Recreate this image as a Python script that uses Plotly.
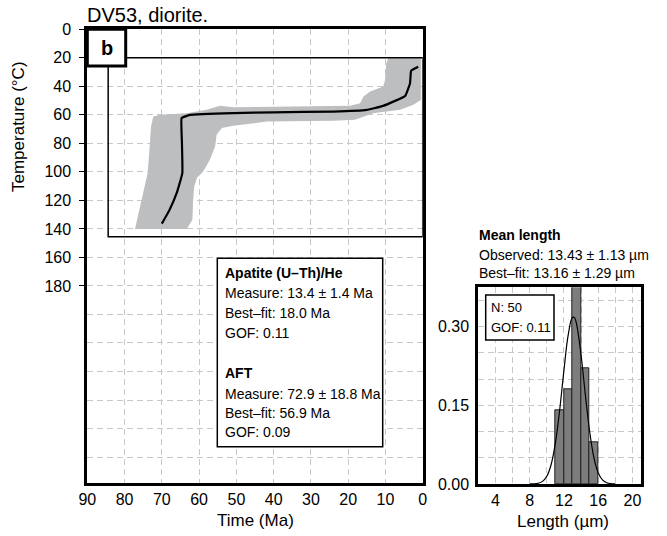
import plotly.graph_objects as go

# ---------------- data ----------------
# envelope of acceptable t-T paths (time Ma, temperature C), polygon
env_time = [77.2, 75.4, 73.8, 73.2, 72.9, 72.3, 70.5, 63.3, 58.0, 54.4, 50.8, 19.5, 16.8, 15.9,
            14.1, 10.6, 10.1, 9.8, 9.2, 0.5, 0.5, 2.5, 6.1, 13.3, 18.2, 24.0, 41.9, 50.8, 53.9,
            55.3, 55.7, 57.1, 58.9, 60.6, 61.3, 61.6, 61.8, 63.3, 77.2]
env_temp = [140, 119.5, 100.8, 79.8, 68.2, 61.2, 60.0, 58.8, 56.5, 53.7, 54.6, 53.7, 51.8, 47.2,
            43.7, 40.2, 35.5, 23.8, 20.3, 20.3, 49.5, 53.0, 56.5, 58.8, 63.5, 64.2, 64.7, 67.7, 69.3,
            74.0, 82.2, 91.5, 99.7, 104.3, 110.2, 119.5, 133.5, 140, 140]

# best-fit path
path_time = [70.0, 68.0, 66.0, 64.5, 64.6, 64.7, 63.3, 62.4, 50.8, 40.0, 24.0, 15.0, 10.6, 4.7, 3.4, 3.1, 1.2]
path_temp = [136.3, 127.0, 114.8, 100.8, 80.0, 62.3, 60.7, 60.0, 58.8, 58.2, 57.7, 56.5, 53.7, 46.7, 37.8, 29.0, 26.2]

# constraint box (time, temperature)
box_time = [84.4, 0]
box_temp = [20, 145.5]

main_xticks = [90, 80, 70, 60, 50, 40, 30, 20, 10, 0]
main_yticks = [0, 20, 40, 60, 80, 100, 120, 140, 160, 180]
main_ygrid_extra = [200, 220, 240, 260, 280, 300]

# track length histogram
bin_centers = [11.5, 12.5, 13.5, 14.5, 15.5]
bin_freq = [0.14, 0.18, 0.38, 0.22, 0.08]

# modelled length distribution
pdf_len = [8.0, 8.5, 9.0, 9.5, 10.0, 10.5, 11.0, 11.5, 12.0, 12.5, 13.0, 13.25, 13.5, 14.0, 14.5,
           15.0, 15.5, 16.0, 16.5, 17.0, 17.5, 18.0]
pdf_val = [0.0001, 0.0004, 0.0015, 0.005, 0.0147, 0.0367, 0.0778, 0.1406, 0.2166, 0.2843, 0.318,
           0.3167, 0.303, 0.246, 0.170, 0.1005, 0.0505, 0.0216, 0.0079, 0.0025, 0.0006, 0.0001]

hist_xticks = [4, 8, 12, 16, 20]
hist_xgrid_extra = [6, 10, 14, 18]
hist_yticks = [0.0, 0.15, 0.30]
hist_yticklabels = ["0.00", "0.15", "0.30"]
hist_ygrid_extra = [0.05, 0.10, 0.20, 0.25, 0.35]

title_text = "DV53, diorite."
panel_label = "b"
ahe_lines = ["<b>Apatite (U–Th)/He</b>", "Measure: 13.4 ± 1.4 Ma", "Best–fit: 18.0 Ma", "GOF: 0.11"]
aft_lines = ["<b>AFT</b>", "Measure: 72.9 ± 18.8 Ma", "Best–fit: 56.9 Ma", "GOF: 0.09"]
len_lines = ["<b>Mean length</b>", "Observed: 13.43 ± 1.13 µm", "Best–fit: 13.16 ± 1.29 µm"]
nbox_lines = ["N: 50", "GOF: 0.11"]

# ---------------- figure ----------------
W, H = 667, 536
FONT = "Liberation Sans, Arial, Helvetica, sans-serif"
GRID = "#c8c8c8"
DASH = "6px,4px"


def px(x):
    return x / W


def py(y):
    return 1 - y / H


fig = go.Figure()

fig.add_trace(go.Scatter(x=env_time, y=env_temp, fill="toself", fillcolor="#bdbec0",
                         line=dict(width=0, color="#bdbec0"), mode="lines",
                         xaxis="x", yaxis="y", hoverinfo="skip", showlegend=False))
fig.add_trace(go.Scatter(x=path_time, y=path_temp, mode="lines",
                         line=dict(color="black", width=2.2, shape="spline", smoothing=0.3),
                         xaxis="x", yaxis="y", showlegend=False))

fig.add_trace(go.Bar(x=bin_centers, y=bin_freq, width=1, marker=dict(color="#7d7d7d",
                     line=dict(color="#222222", width=1)), xaxis="x2", yaxis="y2", showlegend=False))
fig.add_trace(go.Scatter(x=pdf_len, y=pdf_val, mode="lines", line=dict(color="black", width=1.2, shape="spline"),
                         xaxis="x2", yaxis="y2", showlegend=False))

axis_common = dict(showline=True, linewidth=3, linecolor="black", mirror=True, zeroline=False,
                   showgrid=True, gridcolor=GRID, griddash=DASH, gridwidth=1, automargin=False,
                   tickfont=dict(family=FONT, size=16, color="black"))

fig.update_layout(
    width=W, height=H, margin=dict(l=0, r=0, t=0, b=0, pad=0),
    paper_bgcolor="white", plot_bgcolor="white", bargap=0,
    xaxis=dict(domain=[px(87.3), px(422.7)], range=[90, 0], tickvals=main_xticks, anchor="y",
               ticks="", ticklabelstandoff=0, **axis_common),
    yaxis=dict(domain=[py(482.7), py(29.3)], range=[318, 0], tickvals=main_yticks, anchor="x",
               ticks="outside", ticklen=5, tickwidth=1, tickcolor="black", ticklabelstandoff=5,
               minor=dict(tickvals=main_ygrid_extra, showgrid=True, gridcolor=GRID, griddash=DASH, ticks=""),
               **axis_common),
    xaxis2=dict(domain=[px(478.3), px(641)], range=[2, 21], tickvals=hist_xticks, anchor="y2",
                ticks="", ticklabelstandoff=0,
                minor=dict(tickvals=hist_xgrid_extra, showgrid=True, gridcolor=GRID, griddash=DASH, ticks=""),
                **axis_common),
    yaxis2=dict(domain=[py(484), py(287.3)], range=[0, 0.375], tickvals=hist_yticks,
                ticktext=hist_yticklabels, anchor="x2", ticks="", ticklabelstandoff=3,
                minor=dict(tickvals=hist_ygrid_extra, showgrid=True, gridcolor=GRID, griddash=DASH, ticks=""),
                **axis_common),
)

shapes = [
    dict(type="rect", xref="x", yref="y", x0=box_time[0], x1=box_time[1], y0=box_temp[0], y1=box_temp[1],
         line=dict(color="black", width=1.5), layer="above"),
    dict(type="rect", xref="paper", yref="paper", x0=px(87.3), x1=px(125.7), y0=py(66), y1=py(29.3),
         fillcolor="white", line=dict(color="black", width=3), layer="above"),
    dict(type="rect", xref="paper", yref="paper", x0=px(217.3), x1=px(382.7), y0=py(446.7), y1=py(258.3),
         fillcolor="white", line=dict(color="black", width=1.5), layer="above"),
    dict(type="rect", xref="paper", yref="paper", x0=px(485.7), x1=px(554), y0=py(340), y1=py(295),
         fillcolor="white", line=dict(color="black", width=1.5), layer="above"),
]
fig.update_layout(shapes=shapes)

ann = []


def add_text(text, x, y, size, xanchor="left", angle=0):
    ann.append(dict(text=text, x=px(x), y=py(y), xref="paper", yref="paper", showarrow=False,
                    xanchor=xanchor, yanchor="middle", textangle=angle,
                    font=dict(family=FONT, size=size, color="black")))


add_text(title_text, 85, 15, 20)
add_text("<b>" + panel_label + "</b>", 106.5, 47.6, 20, xanchor="center")
add_text("Temperature (°C)", 18, 127, 17, xanchor="center", angle=-90)
add_text("Time (Ma)", 255, 520, 17, xanchor="center")
add_text("Length (µm)", 563, 521, 17, xanchor="center")

ahe_y = [273.3, 293.3, 313.3, 333.3]
aft_y = [373.3, 394.0, 413.3, 432.3]
for t, y in zip(ahe_lines, ahe_y):
    add_text(t, 223, y, 14)
for t, y in zip(aft_lines, aft_y):
    add_text(t, 223, y, 14)
for t, y in zip(len_lines, [235, 254.5, 273.3]):
    add_text(t, 477, y, 14)
for t, y in zip(nbox_lines, [307, 327]):
    add_text(t, 489, y, 13)

fig.update_layout(annotations=ann)

fig.write_html("out.html")
